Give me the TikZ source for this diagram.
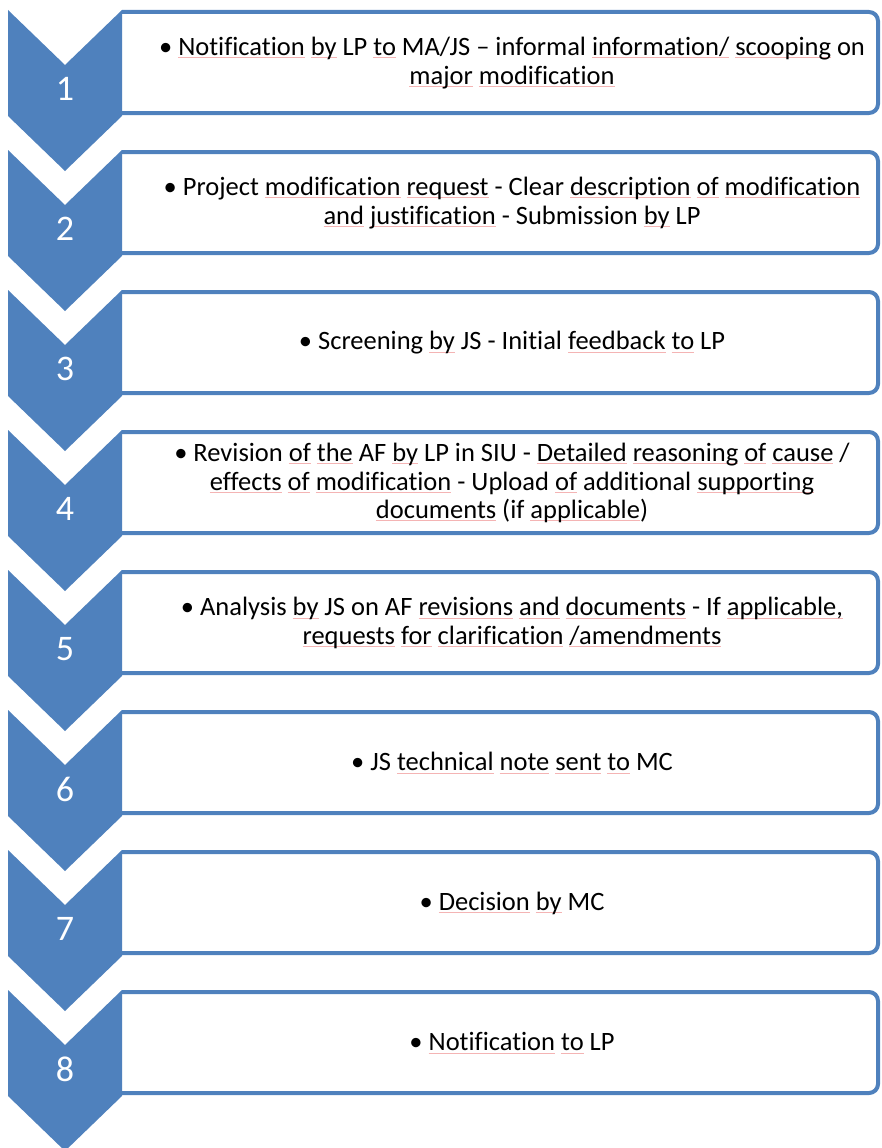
\documentclass[tikz,border=0pt]{standalone}
\usepackage{fontspec}
\setmainfont{Carlito}[RawFeature={-liga;-dlig}]
\definecolor{chevblue}{HTML}{4F81BD}
\definecolor{spellred}{HTML}{F4B4B4}
% faint line under flagged words
\newsavebox\sqbox
\newcommand\sq[1]{\sbox\sqbox{#1}\rlap{\textcolor{spellred}{\rule[-2.6pt]{\wd\sqbox}{0.8pt}}}\usebox\sqbox}

\tikzset{
  chevronshape/.style={fill=chevblue, draw=none},
  stageframe/.style={fill=white, draw=chevblue, line width=4pt},
  stagetext/.style={align=center, text=black, inner sep=0pt,
    font=\fontsize{26.5}{28.5}\selectfont},
  stagenum/.style={text=white, inner sep=0pt, font=\fontsize{36}{40}\selectfont},
}

% one row: number, top edge of the chevron, text
\newcommand\chevronrow[3]{%
  \path[stageframe] (122,#2+2) -- (869,#2+2)
     arc[start angle=-90, end angle=0, radius=9] -- (878,#2+94)
     arc[start angle=0, end angle=90, radius=9] -- (122,#2+103);
  \fill[chevronshape] (8,#2) -- (65,#2+55) -- (122,#2) -- (122,#2+106)
     -- (65,#2+161) -- (8,#2+106) -- cycle;
  \node[stagenum] (n#1) at (65,#2+79) {#1};
  \node[stagetext] (t#1) at (512,#2+53) {#3};
}

\begin{document}
\begin{tikzpicture}[x=1pt, y=-1pt]
\useasboundingbox (0,0) rectangle (881,1148);

\chevronrow{1}{10}{• \sq{Notification} \sq{by} LP \sq{to} MA/JS – informal \sq{information/} \sq{scooping} on\\
  \sq{major} \sq{modification}}

\chevronrow{2}{150}{• Project \sq{modification} \sq{request} - Clear \sq{description} \sq{of} \sq{modification}\\
  \sq{and} \sq{justification} - Submission \sq{by} LP}

\chevronrow{3}{290}{• Screening \sq{by} JS - Initial \sq{feedback} \sq{to} LP}

\chevronrow{4}{430}{• Revision \sq{of} \sq{the} AF \sq{by} LP in SIU - \sq{Detailed} \sq{reasoning} \sq{of} \sq{cause} /\\
  \sq{effects} \sq{of} \sq{modification} - Upload \sq{of} additional \sq{supporting}\\
  \sq{documents} (if \sq{applicable})}

\chevronrow{5}{570}{• Analysis \sq{by} JS on AF \sq{revisions} \sq{and} \sq{documents} - If \sq{applicable,}\\
  \sq{requests} \sq{for} \sq{clarification} \sq{/amendments}}

\chevronrow{6}{710}{• JS \sq{technical} \sq{note} \sq{sent} \sq{to} MC}

\chevronrow{7}{850}{• \sq{Decision} \sq{by} MC}

\chevronrow{8}{990}{• \sq{Notification} \sq{to} LP}

\end{tikzpicture}
\end{document}
